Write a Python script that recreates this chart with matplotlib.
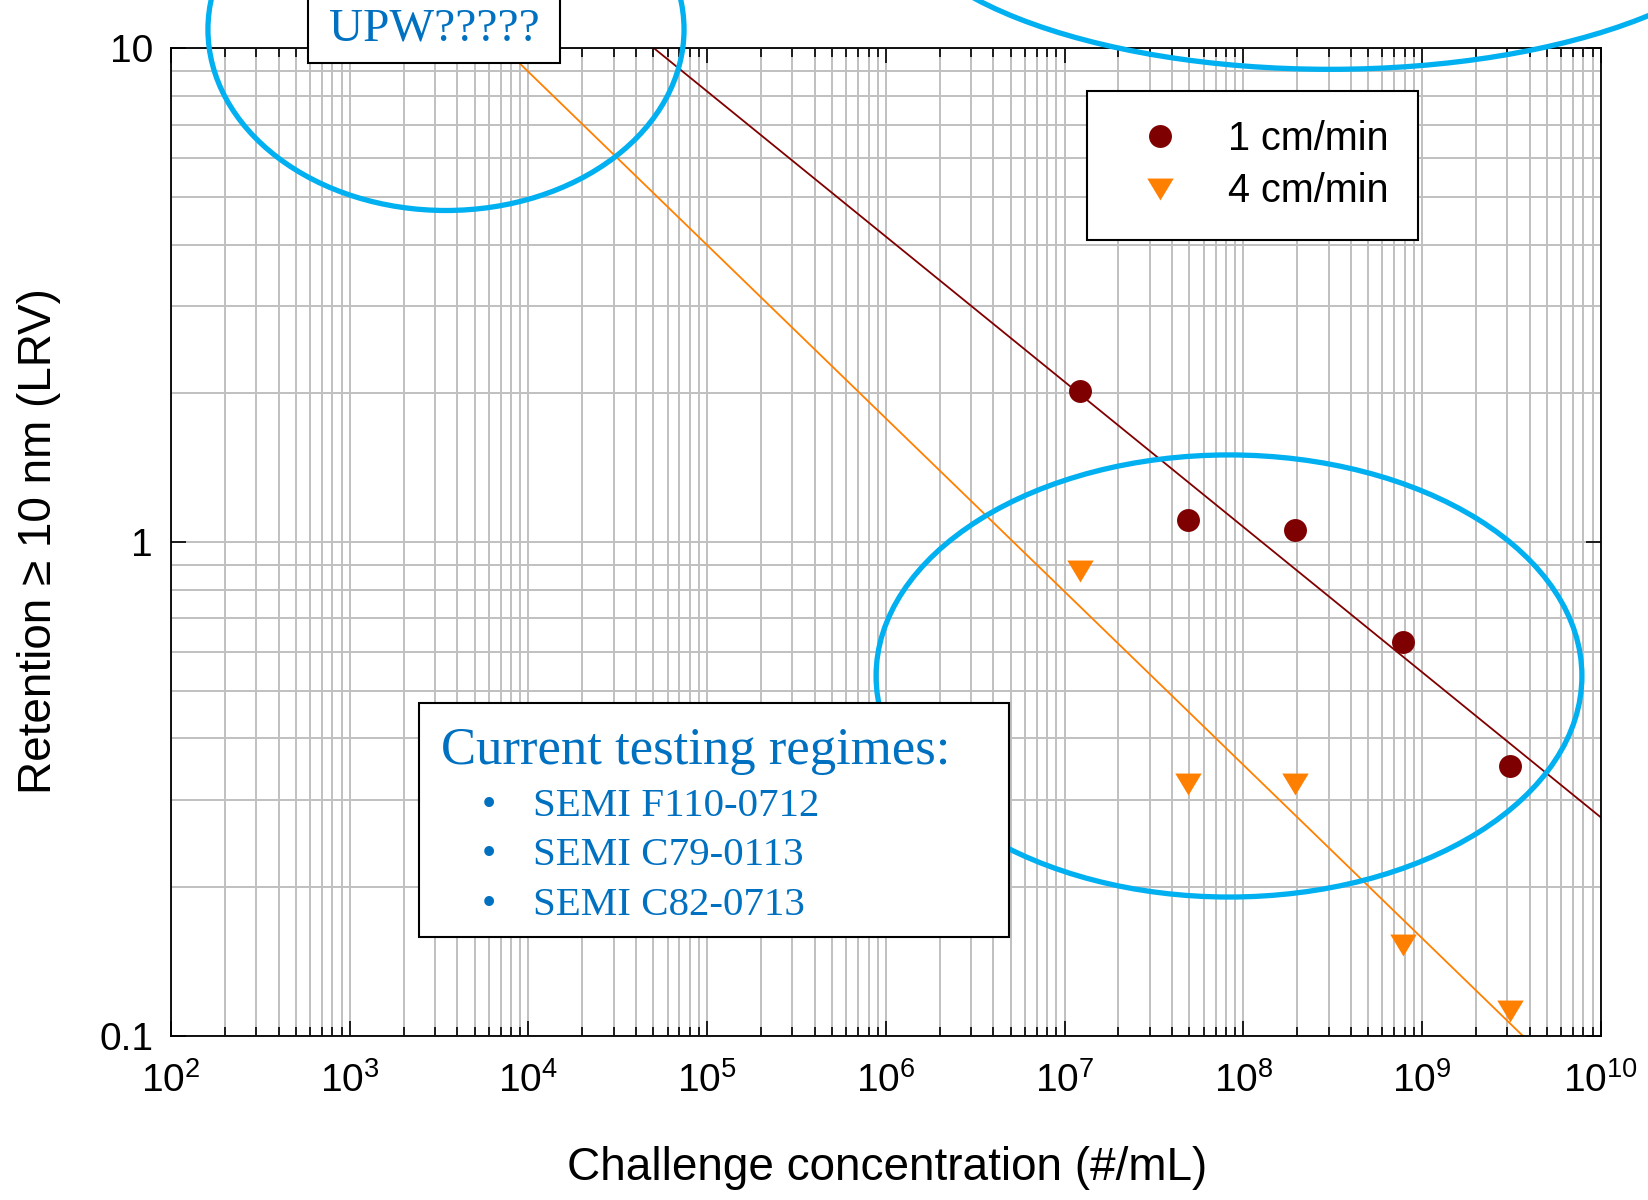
import math
import matplotlib
matplotlib.use('Agg')
import matplotlib.pyplot as plt
from matplotlib.patches import Ellipse, Rectangle
from matplotlib.ticker import LogLocator, FixedLocator, FuncFormatter, NullFormatter
from matplotlib.lines import Line2D

# measured retention (LRV) against challenge concentration (#/mL)
conc = [1.22e7, 4.9e7, 1.95e8, 7.8e8, 3.12e9]
lrv_1cm = [2.02, 1.107, 1.056, 0.626, 0.351]
lrv_4cm = [0.875, 0.323, 0.323, 0.153, 0.112]

# power-law trend lines (straight on log-log), given by their end points
fit_1cm_x = [5.04e4, 1e10]
fit_1cm_y = [10, 0.277]
fit_4cm_x = [7.3e3, 3.66e9]
fit_4cm_y = [10, 0.1]

x_decades = [1e2, 1e3, 1e4, 1e5, 1e6, 1e7, 1e8, 1e9, 1e10]
y_decades = [0.1, 1, 10]
series_labels = ['1 cm/min', '4 cm/min']
regimes = ['SEMI F110-0712', 'SEMI C79-0113', 'SEMI C82-0713']

RED = '#7f0000'
ORANGE = '#ff8000'
BLUE_TXT = '#0070c0'
BLUE_RING = '#00b0f0'

plt.rcParams['font.family'] = ['Liberation Sans', 'DejaVu Sans']
plt.rcParams['mathtext.default'] = 'regular'
narrow = ['Liberation Sans Narrow', 'Liberation Sans']
serif = ['Liberation Serif', 'DejaVu Serif']

# downward triangle a bit wider than tall
tri = [(-1, 0.83), (1, 0.83), (0, -0.83), (-1, 0.83)]

fig = plt.figure(figsize=(16.48, 12), dpi=100)
ax = fig.add_axes([0.1038, 0.1369, 0.8675, 0.8229])
ax.set_xscale('log')
ax.set_yscale('log')
ax.set_xlim(1e2, 1e10)
ax.set_ylim(0.1, 10)

ax.xaxis.set_major_locator(FixedLocator(x_decades))
ax.xaxis.set_minor_locator(LogLocator(base=10, subs=range(2, 10), numticks=200))
ax.yaxis.set_major_locator(FixedLocator(y_decades))
ax.yaxis.set_minor_locator(LogLocator(base=10, subs=range(2, 10), numticks=200))
ax.xaxis.set_major_formatter(FuncFormatter(lambda v, p: r'$\mathdefault{10^{%d}}$' % round(math.log10(v))))
ax.yaxis.set_major_formatter(FuncFormatter(lambda v, p: '%g' % v))
ax.xaxis.set_minor_formatter(NullFormatter())
ax.yaxis.set_minor_formatter(NullFormatter())

ax.grid(which='both', color='#c0c0c0', lw=1.4)
ax.set_axisbelow(True)
for s in ax.spines.values():
    s.set_linewidth(1.3)
ax.tick_params(which='both', direction='in', top=True, right=True, width=1.2)
ax.tick_params(which='major', length=10.5)
ax.tick_params(axis='x', which='major', pad=19)
ax.tick_params(axis='y', which='major', pad=13)
ax.tick_params(which='minor', length=6.5)
ax.tick_params(axis='y', which='minor', length=0)
for lab in ax.get_xticklabels() + ax.get_yticklabels():
    lab.set_family(narrow)
    lab.set_fontsize(28)

# trend lines and measurements
ax.plot(fit_1cm_x, fit_1cm_y, color='#800000', lw=1.3, zorder=2)
ax.plot(fit_4cm_x, fit_4cm_y, color=ORANGE, lw=1.3, zorder=2)
ax.plot(conc, lrv_1cm, ls='none', marker='o', ms=16.5, mew=0, color=RED, zorder=3)
ax.plot(conc, lrv_4cm, ls='none', marker=tri, ms=19, mew=0, color=ORANGE, zorder=3)

ax.set_xlabel('Challenge concentration (#/mL)', fontsize=33, va='center')
ax.xaxis.set_label_coords(0.5007, -0.134)
ax.set_ylabel('Retention \u2265 10 nm (LRV)', fontsize=33, va='center')
ax.yaxis.set_label_coords(-0.0925, 0.501)

handles = [
    Line2D([], [], ls='none', marker='o', ms=16.5, mew=0, color=RED),
    Line2D([], [], ls='none', marker=tri, ms=19, mew=0, color=ORANGE),
]
leg = ax.legend(handles, series_labels, loc='upper left', bbox_to_anchor=(0.641, 0.9568),
                borderaxespad=0, fancybox=False, edgecolor='black', framealpha=1,
                borderpad=0.74, handlelength=2.16, handletextpad=0.65, labelspacing=0.36,
                prop={'size': 28.5})
leg.get_frame().set_linewidth(1.5)
leg.set_zorder(6)

# highlight rings
rings = [((0.1923, 1.019), 0.333, 0.3666),
         ((0.8105, 1.1549), 0.617, 0.3525),
         ((0.740, 0.3643), 0.4937, 0.4477)]
for (cx, cy), w, h in rings:
    ax.add_patch(Ellipse((cx, cy), w, h, transform=ax.transAxes, fill=False,
                         ec=BLUE_RING, lw=3.8, clip_on=False, zorder=4))

# "UPW" tag above the frame
ax.add_patch(Rectangle((0.0958, 0.9851), 0.1762, 0.2, transform=ax.transAxes,
                       fc='white', ec='black', lw=1.5, clip_on=False, zorder=5))
ax.text(0.184, 1.0193, 'UPW?????', transform=ax.transAxes, ha='center', va='center',
        family=serif, fontsize=34, color=BLUE_TXT, zorder=6, clip_on=False)

# box listing current test standards
ax.add_patch(Rectangle((0.1734, 0.100), 0.4126, 0.237, transform=ax.transAxes,
                       fc='white', ec='black', lw=1.5, zorder=5))
ax.text(0.1888, 0.2881, 'Current testing regimes:', transform=ax.transAxes,
        ha='left', va='center', family=serif, fontsize=38, color=BLUE_TXT, zorder=6)
for i, item in enumerate(regimes):
    yy = 0.2324 - i * 0.0502
    ax.text(0.2224, yy, '\u2022', transform=ax.transAxes, ha='center', va='center',
            family=serif, fontsize=29.5, color=BLUE_TXT, zorder=6)
    ax.text(0.2531, yy, item, transform=ax.transAxes, ha='left', va='center',
            family=serif, fontsize=29.5, color=BLUE_TXT, zorder=6)

fig.savefig('out.png', dpi=100)
